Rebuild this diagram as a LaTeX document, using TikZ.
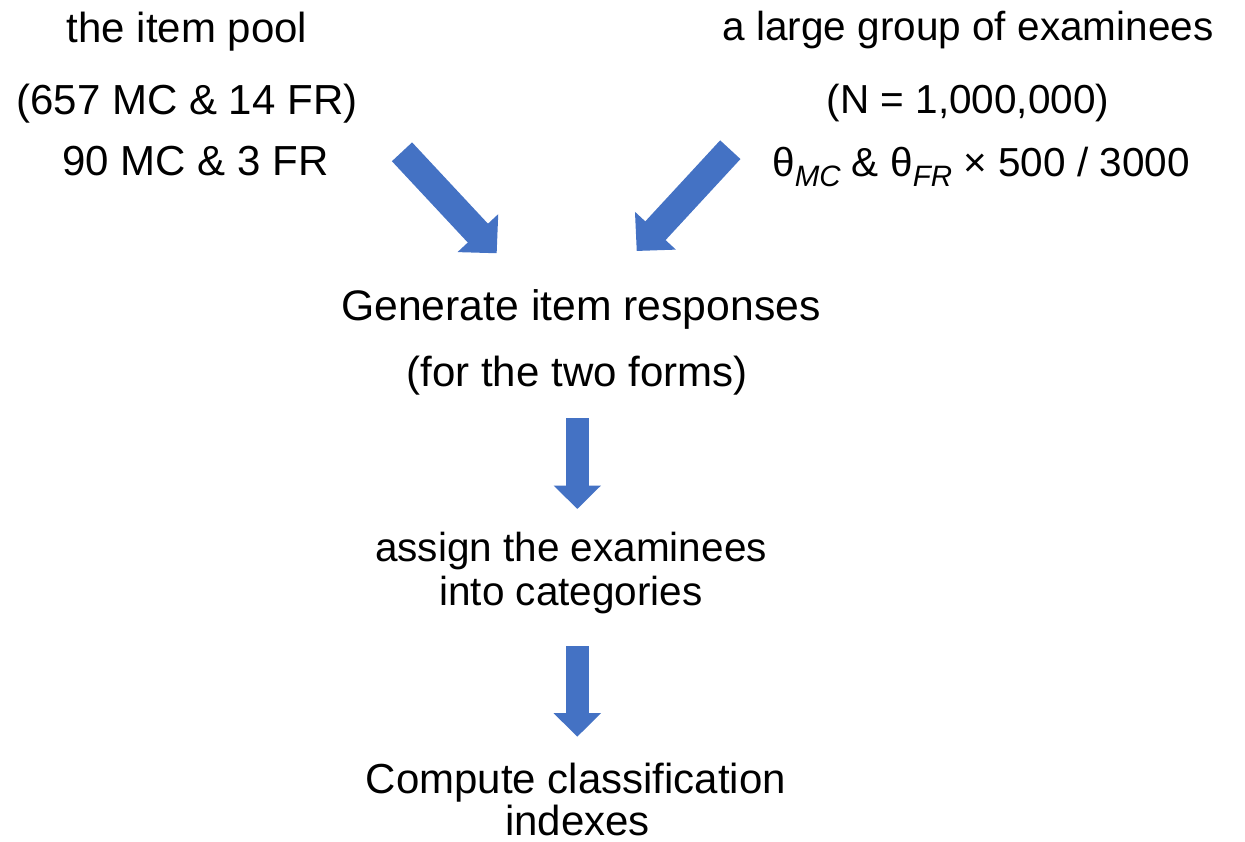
\documentclass[tikz,border=0pt]{standalone}
\usepackage{fontspec}
\setmainfont{Liberation Sans}
\usetikzlibrary{arrows.meta}
\definecolor{arrowblue}{HTML}{4472C4}
\tikzset{
  txt/.style={anchor=base, inner sep=0pt, font=\fontsize{42}{43}\selectfont},
  txtb/.style={anchor=base, inner sep=0pt, font=\fontsize{40.5}{43}\selectfont},
  txtc/.style={anchor=base, inner sep=0pt, font=\fontsize{42.7}{43}\selectfont},
  diagarrow/.style={draw=arrowblue, line width=27.6pt, -{Triangle[length=27.6pt, width=54pt, fill=arrowblue]}},
  vertarrow/.style={draw=arrowblue, line width=23pt, -{Triangle[length=23.5pt, width=46pt, fill=arrowblue]}}
}
\newcommand{\subtxt}[1]{{\fontsize{29.5}{29.5}\selectfont\raisebox{-10pt}{\itshape #1}}}
\begin{document}
\begin{tikzpicture}[x=1pt, y=-1pt]
\useasboundingbox (0,0) rectangle (1245,842);
% left column
\node[txt] (pool) at (187,42.7) {the item pool};
\node[txt] (poolN) at (187,115) {(657 MC \& 14 FR)};
\node[txt] (form) at (195.5,175.5) {90 MC \& 3 FR};
% right column
\node[txtb] (group) at (968,40.7) {a large group of examinees};
\node[txtb] (groupN) at (968,113.3) {(N = 1,000,000)};
\node[txtb] (theta) at (981,176.7) {θ\subtxt{MC} \& θ\subtxt{FR} × 500 / 3000};
% center
\node[txtc] (gen) at (581,320) {Generate item responses};
\node[txt] (gen2) at (577,386.7) {(for the two forms)};
\node[txtb] (assign) at (571,561.7) {assign the examinees};
\node[txtb] (assign2) at (571,605) {into categories};
\node[txt] (comp) at (576,793.3) {Compute classification};
\node[txt] (comp2) at (577.5,835) {indexes};
% arrows
\coordinate (la) at (402,151.8);
\coordinate (lb) at (496.7,253.3);
\coordinate (ra) at (730.3,149.7);
\coordinate (rb) at (636.7,251);
\coordinate (v1a) at (577.3,418.3);
\coordinate (v1b) at (577.3,509);
\coordinate (v2a) at (577.3,646);
\coordinate (v2b) at (577.3,736.7);
\draw[diagarrow] (la) -- (lb);
\draw[diagarrow] (ra) -- (rb);
\draw[vertarrow] (v1a) -- (v1b);
\draw[vertarrow] (v2a) -- (v2b);
\end{tikzpicture}
\end{document}
